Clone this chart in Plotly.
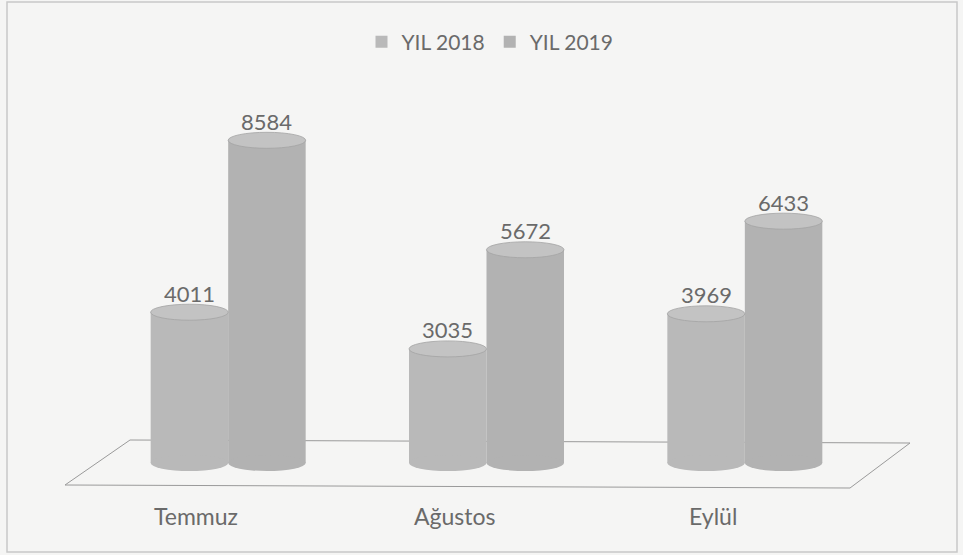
import plotly.graph_objects as go

categories = ["Temmuz", "Ağustos", "Eylül"]
series_names = ["YIL 2018", "YIL 2019"]
values_2018 = [4011, 3035, 3969]
values_2019 = [8584, 5672, 6433]

W, H = 963, 555
L, R, T, B = 99, 89, 60, 75
PW, PH = W - L - R, H - T - B
YMIN, YMAX = -452, 10720

def px_to_paper(px, py):
    return (px - L) / PW, (H - B - py) / PH

col18 = "#b9b9b9"
col19 = "#b2b2b2"
edge = "#a3a3a3"
font_fam = "Lato, 'Open Sans', sans-serif"
txt_col = "#6a6a6a"

fig = go.Figure()
fig.add_trace(go.Bar(name=series_names[0], x=categories, y=values_2018,
                     marker=dict(color=col18, line=dict(width=0))))
fig.add_trace(go.Bar(name=series_names[1], x=categories, y=values_2019,
                     marker=dict(color=col19, line=dict(width=0))))

units_per_px = (YMAX - YMIN) / PH
ry = 8 * units_per_px
bw = 0.3
shapes = []

# floor parallelogram
pts = [px_to_paper(65, 485), px_to_paper(130, 440), px_to_paper(910, 443), px_to_paper(850, 488)]
path = "M {} {} L {} {} L {} {} L {} {} Z".format(*[c for p in pts for c in p])
shapes.append(dict(type="path", xref="paper", yref="paper", path=path,
                   line=dict(color="#9a9a9a", width=1), fillcolor="rgba(0,0,0,0)", layer="below"))

# outer frame
fx0, fy0 = px_to_paper(7, 552)
fx1, fy1 = px_to_paper(957, 2)
shapes.append(dict(type="rect", xref="paper", yref="paper", x0=fx0, y0=fy0, x1=fx1, y1=fy1,
                   line=dict(color="#c8c8c8", width=1.5), layer="below"))

for i in range(len(categories)):
    for vals, off, col in ((values_2018, -bw, col18), (values_2019, 0.0, col19)):
        v = vals[i]
        x0, x1 = i + off, i + off + bw
        shapes.append(dict(type="circle", xref="x", yref="y", x0=x0, x1=x1, y0=-ry, y1=ry,
                           fillcolor=col, line=dict(width=0), layer="above"))
        shapes.append(dict(type="circle", xref="x", yref="y", x0=x0, x1=x1, y0=v - ry, y1=v + ry,
                           fillcolor="#c3c3c3", line=dict(color=edge, width=0.8), layer="above"))

annotations = []
for i in range(len(categories)):
    for vals, off in ((values_2018, -bw / 2), (values_2019, bw / 2)):
        annotations.append(dict(x=i + off, y=vals[i], xref="x", yref="y", text=str(vals[i]),
                                showarrow=False, yshift=19, yanchor="middle",
                                font=dict(family=font_fam, size=22, color=txt_col)))
    annotations.append(dict(x=i, y=0, xref="x", yref="y", text=categories[i], showarrow=False,
                            xshift=-32, yshift=-53, yanchor="middle",
                            font=dict(family=font_fam, size=23, color=txt_col)))

fig.update_layout(
    width=W, height=H,
    margin=dict(l=L, r=R, t=T, b=B),
    barmode="group", bargap=0.4, bargroupgap=0,
    paper_bgcolor="#f5f5f4", plot_bgcolor="rgba(0,0,0,0)",
    xaxis=dict(range=[-0.5, 2.5], showticklabels=False, showgrid=False, zeroline=False, showline=False),
    yaxis=dict(range=[YMIN, YMAX], visible=False),
    legend=dict(orientation="h", x=(490 - L) / PW, xanchor="center", y=(H - B - 42) / PH,
                yanchor="middle", font=dict(family=font_fam, size=21, color=txt_col),
                itemwidth=30, bgcolor="rgba(0,0,0,0)"),
    shapes=shapes, annotations=annotations,
    showlegend=True,
)

fig.write_html("out.html", config={"displayModeBar": False},
               post_script="document.body.style.margin='0';")
